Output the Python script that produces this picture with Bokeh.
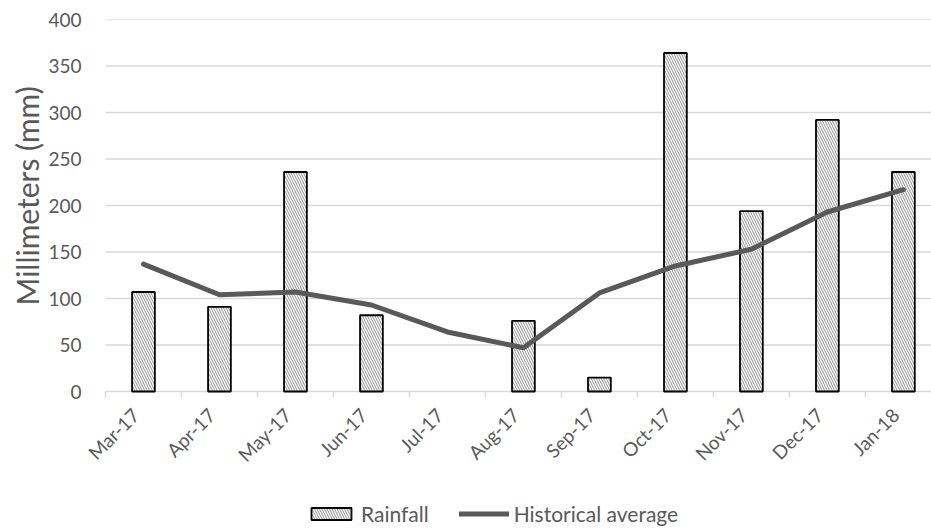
import math
from bokeh.plotting import figure
from bokeh.models import (Range1d, FixedTicker, Legend, LegendItem,
                          ColumnDataSource, Title)
from bokeh.core.properties import value
from bokeh.embed import file_html
from bokeh.resources import INLINE

months = ["Mar-17", "Apr-17", "May-17", "Jun-17", "Jul-17", "Aug-17",
          "Sep-17", "Oct-17", "Nov-17", "Dec-17", "Jan-18"]
rainfall = [107, 91, 236, 82, float("nan"), 76, 15, 364, 194, 292, 236]
historical_average = [137, 104, 107, 93, 64, 47, 106, 135, 153, 193, 217]
y_ticks = [0, 50, 100, 150, 200, 250, 300, 350, 400]

FONT = "Lato"
GREY = "#595959"
AXIS_GREY = "#d9d9d9"

n = len(months)
centers = [i + 0.5 for i in range(n)]
boundaries = list(range(n + 1))
X_START, X_END = -0.276, 10.87

src = ColumnDataSource(dict(x=centers, rain=rainfall, hist=historical_average,
                            month=months, zero=[0] * n))
ticks_src = ColumnDataSource(dict(x=boundaries, y0=[0] * (n + 1),
                                  y1=[-6.5] * (n + 1)))
grid_src = ColumnDataSource(dict(y=y_ticks, x0=[0] * len(y_ticks),
                                 x1=[X_END] * len(y_ticks)))

# The frame runs to the bottom of the page (and a little left of the first
# category) so the month labels and the legend can sit under the zero line.
PX_PER_MM = 372 / 400
y_bottom = -138 / PX_PER_MM

p = figure(frame_width=847, frame_height=510, output_backend="svg",
           toolbar_location=None, x_axis_location=None,
           x_range=Range1d(X_START, X_END), y_range=Range1d(y_bottom, 400),
           min_border_left=84, min_border_right=0, min_border_top=19,
           min_border_bottom=0)
p.outline_line_color = None
p.background_fill_color = "white"
p.border_fill_color = "white"
p.xgrid.grid_line_color = None
p.ygrid.grid_line_color = None

# horizontal gridlines (the 0 line doubles as the category axis line)
p.segment(x0="x0", y0="y", x1="x1", y1="y", source=grid_src,
          line_color=AXIS_GREY, line_width=1.5)

# category tick marks between the months
p.segment(x0="x", y0="y0", x1="x", y1="y1", source=ticks_src,
          line_color=AXIS_GREY, line_width=1.5)

bars = p.vbar(x="x", top="rain", width=0.3, source=src, fill_color="white",
              line_color="black", line_width=1.8,
              hatch_pattern="\\", hatch_color="#8f8f8f", hatch_scale=5,
              hatch_weight=1.0)
line = p.line(x="x", y="hist", source=src, line_color=GREY, line_width=5,
              line_join="round", line_cap="round")

# rotated month labels under each category
p.text(x="x", y="zero", text="month", source=src, angle=math.pi / 4,
       text_align="right", text_baseline="middle", x_offset=-8, y_offset=20,
       text_font=value(FONT), text_font_size="19px", text_color=GREY)

# y axis: labels only
p.yaxis.ticker = FixedTicker(ticks=y_ticks)
p.yaxis.axis_line_color = None
p.yaxis.major_tick_line_color = None
p.yaxis.minor_tick_line_color = None
p.yaxis.major_label_text_font = FONT
p.yaxis.major_label_text_font_size = "19px"
p.yaxis.major_label_text_color = GREY
p.yaxis.major_label_standoff = -3

p.add_layout(Title(text="Millimeters (mm)", align="left", offset=224,
                   text_font=FONT, text_font_size="30px",
                   text_font_style="normal", text_color=GREY,
                   standoff=2), "left")

legend = Legend(items=[LegendItem(label="Rainfall", renderers=[bars]),
                       LegendItem(label="Historical average", renderers=[line])],
                orientation="horizontal", location=(222, 3),
                label_text_font=FONT, label_text_font_size="21px",
                label_text_color=GREY, glyph_width=50, glyph_height=15,
                spacing=30, label_standoff=5, border_line_color=None,
                background_fill_alpha=0, margin=0, padding=2)
p.add_layout(legend, "center")

open("out.html", "w").write(file_html(p, INLINE))
